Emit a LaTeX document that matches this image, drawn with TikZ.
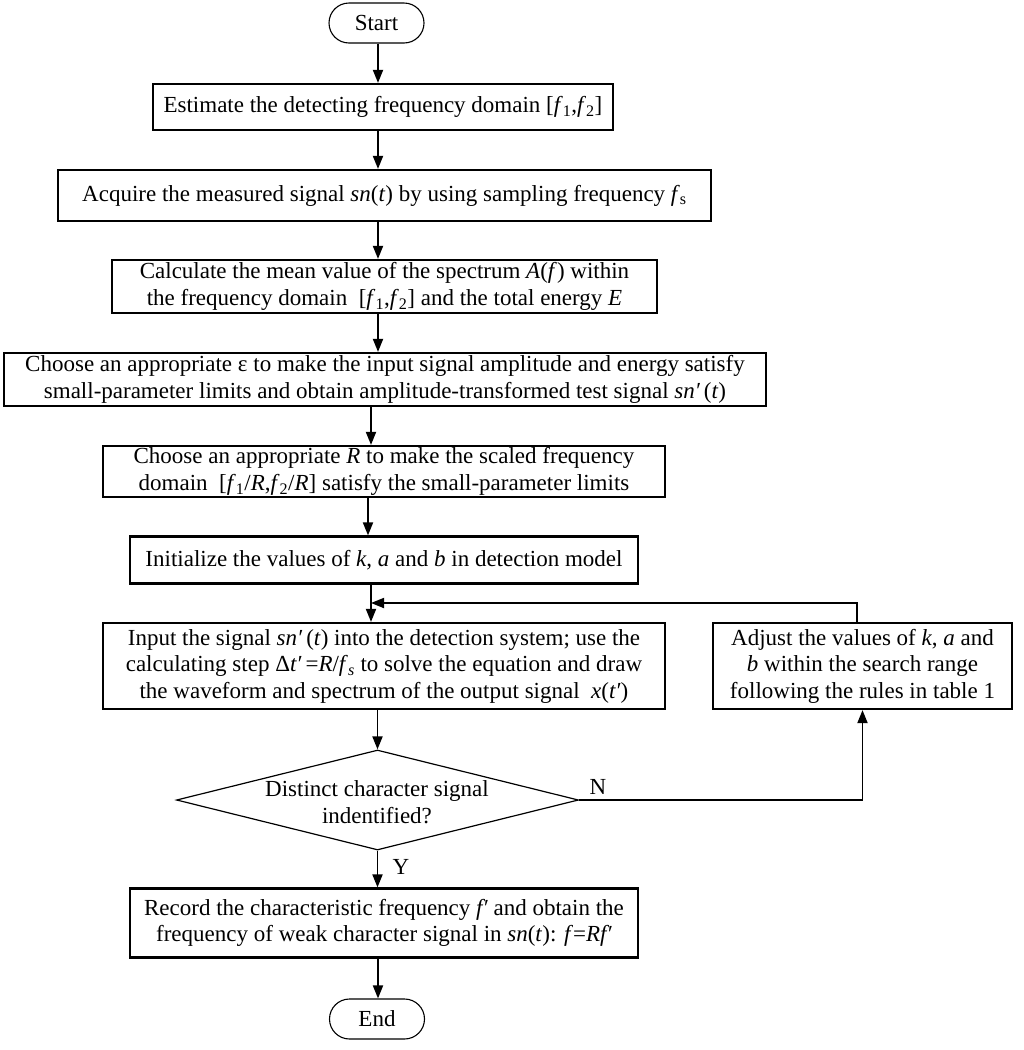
\documentclass[tikz,border=0pt]{standalone}
\usepackage{fontspec}
\setmainfont{Liberation Serif}
\usetikzlibrary{arrows.meta,shapes.geometric,shapes.misc}
\newcommand{\iv}[1]{\textit{#1}}
\newcommand{\pr}{\char"2032}
\begin{document}
\begin{tikzpicture}[x=1pt,y=-1pt,
  txt/.style={font=\fontsize{23}{26.5}\selectfont},
  box/.style={txt,draw,line width=2.2pt,align=center,inner sep=0pt},
  term/.style={txt,draw,line width=1.1pt,rounded rectangle,minimum width=95pt,minimum height=40pt,inner sep=0pt},
  dec/.style={draw,diamond,line width=1.2pt,minimum width=402pt,minimum height=100pt,inner sep=0pt},
  arr/.style={line width=1.8pt,-{Triangle[length=13pt,width=10pt]}},
  lbl/.style={txt,inner sep=0pt}
]
\useasboundingbox (0,0) rectangle (1024,1050);

\node[term] (start) at (376.5,23) {Start};
\node[box,minimum width=460pt,minimum height=46pt] (est) at (383,107)
  {Estimate the detecting frequency domain [\iv{f}\textsubscript{1},\iv{f}\textsubscript{2}]};
\node[box,minimum width=653pt,minimum height=51pt] (acq) at (384.5,195.5)
  {Acquire the measured signal \iv{sn}(\iv{t}) by using sampling frequency \iv{f}\textsubscript{s}};
\node[box,minimum width=545pt,minimum height=53pt] (calc) at (384.5,286.5)
  {Calculate the mean value of the spectrum \iv{A}(\iv{f}) within\\
   the frequency domain~ [\iv{f}\textsubscript{1},\iv{f}\textsubscript{2}] and the total energy \iv{E}};
\node[box,minimum width=762pt,minimum height=53pt] (eps) at (385,379.5)
  {Choose an appropriate ε to make the input signal amplitude and energy satisfy\\
   small-parameter limits and obtain amplitude-transformed test signal \iv{sn\pr}\,(\iv{t})};
\node[box,minimum width=562pt,minimum height=51pt] (rr) at (384,471.5)
  {Choose an appropriate \iv{R} to make the scaled frequency\\
   domain~ [\iv{f}\textsubscript{1}/\iv{R},\iv{f}\textsubscript{2}/\iv{R}] satisfy the small-parameter limits};
\node[box,minimum width=508pt,minimum height=47pt] (init) at (384,560)
  {Initialize the values of \iv{k}, \iv{a} and \iv{b} in detection model};
\node[box,minimum width=562pt,minimum height=86pt] (inp) at (384,666)
  {Input the signal \iv{sn\pr}\,(\iv{t}) into the detection system; use the\\
   calculating step Δ\iv{t\pr}\,=\iv{R}/\iv{f}\textsubscript{\iv{s}} to solve the equation and draw\\
   the waveform and spectrum of the output signal~ \iv{x}(\iv{t\pr})};
\node[box,minimum width=299pt,minimum height=86pt] (adj) at (862.5,666)
  {Adjust the values of \iv{k}, \iv{a} and\\
   \iv{b} within the search range\\
   following the rules in table 1};
\node[dec] (dec) at (377.5,800) {};
\node[lbl,align=center] (dect) at (377,802) {Distinct character signal\\ indentified?};
\node[box,minimum width=508pt,minimum height=69pt] (rec) at (384,923)
  {Record the characteristic frequency \iv{f\pr} and obtain the\\
   frequency of weak character signal in \iv{sn}(\iv{t}): \iv{f}=\iv{Rf\pr}};
\node[term] (end) at (377,1019) {End};

\node[lbl] (nlab) at (598,787) {N};
\node[lbl] (ylab) at (401,867) {Y};

\coordinate (colA) at (378,0);
\coordinate (colB) at (371,0);
\coordinate (colC) at (368,0);
\coordinate (loopin) at (371,603);

\draw[arr] (start.south -| colA) -- (est.north -| colA);
\draw[arr] (est.south -| colA) -- (acq.north -| colA);
\draw[arr] (acq.south -| colA) -- (calc.north -| colA);
\draw[arr] (calc.south -| colA) -- (eps.north -| colA);
\draw[arr] (eps.south -| colB) -- (rr.north -| colB);
\draw[arr] (rr.south -| colC) -- (init.north -| colC);
\draw[arr] (init.south -| colB) -- (inp.north -| colB);
\draw[arr] (inp.south -| dec.north) -- (dec.north);
\draw[arr] (dec.south) -- (rec.north -| dec.south);
\draw[arr] (rec.south -| colA) -- (end.north -| colA);
\draw[arr] (dec.east) -| (adj.south);
\draw[arr] ([xshift=-5.5pt]adj.north) |- (loopin);
\end{tikzpicture}
\end{document}
